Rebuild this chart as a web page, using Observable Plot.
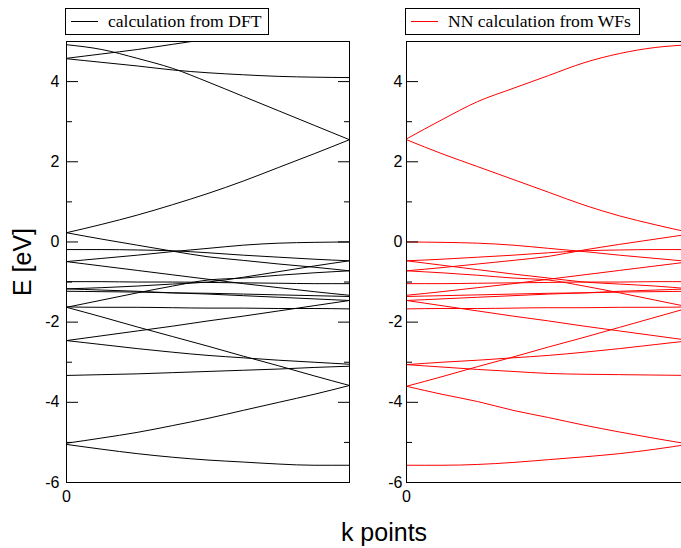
<!DOCTYPE html>
<html><head><meta charset="utf-8">
<script src="https://cdn.jsdelivr.net/npm/d3@7"></script>
<script src="https://cdn.jsdelivr.net/npm/@observablehq/plot@0.6"></script>
<style>
body{margin:0;background:#fff;overflow:hidden}
#wrap{position:relative;width:681px;height:548px;overflow:hidden;font-family:"Liberation Sans",Arial,sans-serif;color:#000}
#left,#right{position:absolute;top:0}
#left{left:0}
#right{left:372px}
.legend{position:absolute;top:8px;height:27px;border:1px solid #000;box-sizing:border-box;background:#fff;font-family:"Liberation Serif","Times New Roman",serif;font-size:17.6px;white-space:nowrap}
.legend .sw{position:absolute;left:5px;top:12px;width:27px;height:0;border-top:1px solid #000}
.legend .tx{position:absolute;left:42px;top:1px;line-height:22px}
#ylab{position:absolute;left:22px;top:262px;transform:translate(-50%,-50%) rotate(-90deg);font-size:25px;white-space:nowrap}
#xlab{position:absolute;left:384px;top:532px;transform:translate(-50%,-50%);font-size:25px;white-space:nowrap}
</style>
</head><body>
<div id="wrap">
  <div id="left"></div>
  <div id="right"></div>
  <div class="legend" style="left:65px;width:204px"><span class="sw"></span><span class="tx">calculation from DFT</span></div>
  <div class="legend" style="left:405px;width:235px"><span class="sw" style="border-color:#ff0000"></span><span class="tx">NN calculation from WFs</span></div>
  <div id="ylab">E [eV]</div>
  <div id="xlab">k points</div>
</div>
<script>
// k-point grid (fraction of the path)
const kPoints = [0, 0.125, 0.25, 0.375, 0.5, 0.625, 0.75, 0.875, 1];
const majorTicks = [4, 2, 0, -2, -4, -6];
const minorTicks = [5, 3, 1, -1, -3, -5];
const xTicks = [0];

// DFT bands (eV), left panel
const dftA = [4.92, 4.80, 4.58, 4.33, 3.99, 3.63, 3.27, 2.91, 2.55];
const dftB = [4.58, 4.69, 4.80, 4.93, 5.06, null, null, null, null];
const dftC = [4.57, 4.48, 4.39, 4.29, 4.22, 4.17, 4.13, 4.11, 4.10];
const dftD = [0.23, 0.44, 0.67, 0.93, 1.21, 1.52, 1.86, 2.20, 2.55];
const dftE = [0.23, 0.07, -0.08, -0.23, -0.37, -0.46, -0.55, -0.63, -0.72];
const dftF2 = [-0.19, -0.19, -0.20, -0.22, -0.27, -0.33, -0.38, -0.43, -0.47];
const dftL = [-0.49, -0.41, -0.33, -0.24, -0.16, -0.08, -0.03, -0.01, 0.00];
const dftV = [-0.49, -0.60, -0.71, -0.82, -0.93, -1.04, -1.14, -1.24, -1.33];
const dftFlat1 = [-0.99, -0.99, -1.00, -1.00, -1.01, -1.02, -1.03, -1.04, -1.04];
const dftN = [-1.17, -1.14, -1.10, -1.05, -1.00, -0.88, -0.74, -0.60, -0.47];
const dftR = [-1.17, -1.20, -1.23, -1.27, -1.30, -1.34, -1.38, -1.42, -1.46];
const dftFlat2 = [-1.23, -1.24, -1.25, -1.27, -1.28, -1.30, -1.32, -1.34, -1.36];
const dftP = [-1.63, -1.45, -1.27, -1.10, -0.95, -0.90, -0.83, -0.77, -0.72];
const dftQ = [-1.62, -1.63, -1.63, -1.64, -1.65, -1.65, -1.66, -1.66, -1.67];
const dftF = [-1.63, -1.87, -2.12, -2.36, -2.60, -2.85, -3.09, -3.34, -3.58];
const dftG = [-2.46, -2.34, -2.22, -2.10, -1.97, -1.85, -1.72, -1.59, -1.46];
const dftH = [-2.46, -2.56, -2.66, -2.75, -2.83, -2.89, -2.95, -3.00, -3.05];
const dftI = [-3.33, -3.31, -3.29, -3.26, -3.23, -3.20, -3.17, -3.13, -3.10];
const dftJ = [-5.02, -4.89, -4.75, -4.58, -4.40, -4.20, -4.00, -3.80, -3.58];
const dftK = [-5.05, -5.17, -5.28, -5.37, -5.44, -5.49, -5.54, -5.57, -5.57];

// NN bands from Wannier functions (eV), right panel
const wfA = [2.57, 3.05, 3.50, 3.83, 4.15, 4.47, 4.70, 4.85, 4.92];
const wfD = [2.55, 2.20, 1.88, 1.56, 1.24, 0.92, 0.65, 0.43, 0.23];
const wfE = [-0.72, -0.64, -0.55, -0.46, -0.36, -0.20, -0.06, 0.07, 0.20];
const wfL = [0.00, -0.01, -0.03, -0.08, -0.16, -0.24, -0.33, -0.41, -0.49];
const wfF2 = [-0.47, -0.43, -0.38, -0.33, -0.27, -0.22, -0.20, -0.19, -0.19];
const wfN = [-0.47, -0.58, -0.69, -0.80, -0.90, -1.00, -1.05, -1.10, -1.17];
const wfV = [-1.33, -1.24, -1.14, -1.04, -0.93, -0.82, -0.71, -0.60, -0.49];
const wfFlat1 = [-1.04, -1.04, -1.03, -1.02, -1.01, -1.00, -1.00, -0.99, -0.99];
const wfFlat2 = [-1.36, -1.34, -1.32, -1.30, -1.28, -1.27, -1.25, -1.24, -1.23];
const wfR = [-1.46, -1.42, -1.38, -1.34, -1.30, -1.27, -1.23, -1.20, -1.17];
const wfP = [-0.72, -0.77, -0.83, -0.90, -0.95, -1.10, -1.27, -1.45, -1.63];
const wfQ = [-1.67, -1.66, -1.66, -1.65, -1.64, -1.64, -1.63, -1.63, -1.62];
const wfG = [-1.46, -1.59, -1.72, -1.85, -1.97, -2.10, -2.22, -2.34, -2.46];
const wfF = [-3.60, -3.36, -3.11, -2.87, -2.62, -2.38, -2.13, -1.88, -1.63];
const wfH = [-3.06, -3.00, -2.95, -2.89, -2.83, -2.75, -2.66, -2.56, -2.46];
const wfI = [-3.06, -3.12, -3.18, -3.23, -3.28, -3.30, -3.31, -3.32, -3.33];
const wfJ = [-3.60, -3.80, -3.98, -4.20, -4.38, -4.57, -4.74, -4.90, -5.05];
const wfK = [-5.57, -5.57, -5.55, -5.50, -5.43, -5.36, -5.28, -5.17, -5.04];

const dftBands = [dftA, dftB, dftC, dftD, dftE, dftF2, dftL, dftV, dftFlat1, dftN, dftR, dftFlat2, dftP, dftQ, dftF, dftG, dftH, dftI, dftJ, dftK];
const wfBands = [wfA, wfD, wfE, wfL, wfF2, wfN, wfV, wfFlat1, wfFlat2, wfR, wfP, wfQ, wfG, wfF, wfH, wfI, wfJ, wfK];

function toRows(bands) {
  const rows = [];
  bands.forEach((b, i) => b.forEach((E, j) => rows.push({band: i, k: kPoints[j], E})));
  return rows;
}

const fmt = d => `${d}`;
const styleObj = {fontFamily: '"Liberation Sans", Arial, sans-serif', fontSize: "16px", color: "#000", background: "transparent", overflow: "visible"};

const left = Plot.plot({
  width: 372, height: 548,
  marginLeft: 66, marginRight: 23, marginTop: 41, marginBottom: 66,
  x: {domain: [0, 1]},
  y: {domain: [-6, 5]},
  style: styleObj,
  marks: [
    Plot.line(toRows(dftBands), {x: "k", y: "E", z: "band", stroke: "#000", strokeWidth: 1, curve: "monotone-x", clip: true}),
    Plot.frame({stroke: "#000", strokeWidth: 1}),
    Plot.axisY(majorTicks, {anchor: "left", tickSize: 12, dx: 12, fill: "none", label: null}),
    Plot.axisY(minorTicks, {anchor: "left", tickSize: 6, dx: 6, fill: "none", label: null}),
    Plot.axisY(majorTicks, {anchor: "right", tickSize: 12, dx: -12, fill: "none", label: null}),
    Plot.axisY(minorTicks, {anchor: "right", tickSize: 6, dx: -6, fill: "none", label: null}),
    Plot.axisY(majorTicks, {anchor: "left", tickSize: 0, tickPadding: 7, stroke: "none", label: null, tickFormat: fmt}),
    Plot.axisX(xTicks, {anchor: "bottom", tickSize: 0, tickPadding: 8, label: null, tickFormat: fmt})
  ]
});
document.getElementById("left").appendChild(left);

const right = Plot.plot({
  width: 309, height: 548,
  marginLeft: 34, marginRight: 0, marginTop: 41, marginBottom: 66,
  x: {domain: [0, 0.968]},
  y: {domain: [-6, 5]},
  style: styleObj,
  marks: [
    Plot.line(toRows(wfBands), {x: "k", y: "E", z: "band", stroke: "#ff0000", strokeWidth: 1, curve: "monotone-x", clip: true}),
    Plot.ruleX(xTicks, {stroke: "#000", strokeWidth: 1}),
    Plot.ruleY([-6, 5], {stroke: "#000", strokeWidth: 1}),
    Plot.axisY(majorTicks, {anchor: "left", tickSize: 12, dx: 12, fill: "none", label: null}),
    Plot.axisY(minorTicks, {anchor: "left", tickSize: 6, dx: 6, fill: "none", label: null}),
    Plot.axisY(majorTicks, {anchor: "left", tickSize: 0, tickPadding: 4, stroke: "none", label: null, tickFormat: fmt}),
    Plot.axisX(xTicks, {anchor: "bottom", tickSize: 0, tickPadding: 8, label: null, tickFormat: fmt})
  ]
});
document.getElementById("right").appendChild(right);
</script>
</body></html>
